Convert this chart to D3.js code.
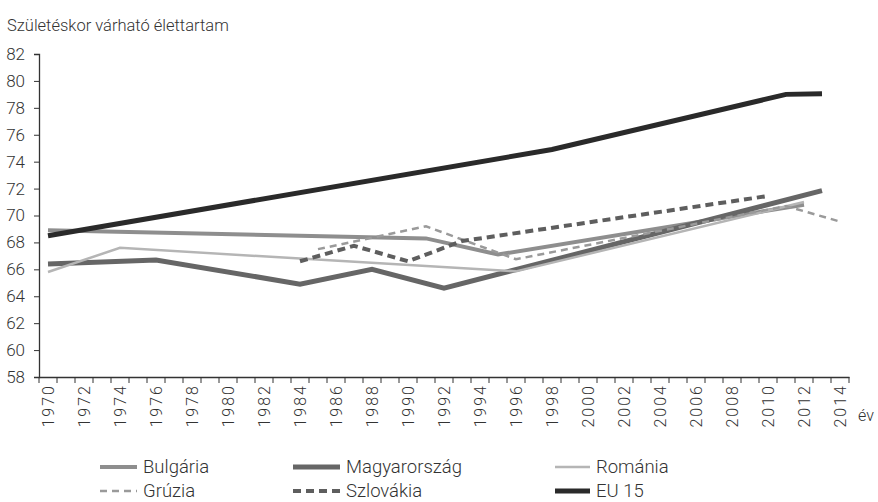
<!DOCTYPE html>
<html>
<head>
<meta charset="utf-8">
<script src="https://cdn.jsdelivr.net/npm/d3@7"></script>
<style>
  body { margin: 0; background: #fff; }
  text { font-family: Roboto, "Liberation Sans", sans-serif; font-weight: 300; fill: #333; }
</style>
</head>
<body>
<div id="chart"></div>
<script>
// years on the category axis
const years = d3.range(1970, 2015);
const yTicks = [58, 60, 62, 64, 66, 68, 70, 72, 74, 76, 78, 80, 82];

// series (vertices)
const bulgariaYears = [1970, 1991, 1995, 2012];
const bulgariaValues = [68.9, 68.3, 67.1, 70.8];
const hungaryYears = [1970, 1976, 1984, 1988, 1992, 2013];
const hungaryValues = [66.4, 66.7, 64.9, 66.0, 64.6, 71.85];
const romaniaYears = [1970, 1974, 1996, 2012];
const romaniaValues = [65.8, 67.6, 65.85, 71.0];
const georgiaYears = [1985, 1991, 1996, 2011, 2014];
const georgiaValues = [67.5, 69.2, 66.75, 70.7, 69.55];
const slovakiaYears = [1984, 1987, 1990, 1993, 2010];
const slovakiaValues = [66.6, 67.75, 66.6, 68.1, 71.45];
const eu15Years = [1970, 1998, 2011, 2013];
const eu15Values = [68.5, 74.9, 79.0, 79.05];

const series = [
  { name: "Bulgária", years: bulgariaYears, values: bulgariaValues, color: "#8e8e8e", width: 4, dash: null },
  { name: "Magyarország", years: hungaryYears, values: hungaryValues, color: "#666666", width: 5, dash: null },
  { name: "Románia", years: romaniaYears, values: romaniaValues, color: "#b5b5b5", width: 2.5, dash: null },
  { name: "Grúzia", years: georgiaYears, values: georgiaValues, color: "#9a9a9a", width: 2.5, dash: "7,5" },
  { name: "Szlovákia", years: slovakiaYears, values: slovakiaValues, color: "#5e5e5e", width: 4, dash: "8,5" },
  { name: "EU 15", years: eu15Years, values: eu15Values, color: "#2a2a2a", width: 5, dash: null }
];

const W = 878, H = 502;
const svg = d3.select("#chart").append("svg").attr("width", W).attr("height", H);

const x = d3.scaleBand().domain(years).range([39, 849]).paddingInner(0).paddingOuter(0);
const y = d3.scaleLinear().domain([58, 82]).range([377, 54]);
const cx = d => x(d) + x.bandwidth() / 2;

// title
svg.append("text").attr("x", 7).attr("y", 31).style("font-size", "16.5px")
  .text("Születéskor várható élettartam");

// y axis
const yAxis = svg.append("g").attr("transform", "translate(39,0)")
  .call(d3.axisLeft(y).tickValues(yTicks).tickSize(5).tickPadding(9));
yAxis.select(".domain").attr("stroke", "#333").attr("stroke-width", 1.3);
yAxis.selectAll(".tick line").attr("stroke", "#333");
yAxis.selectAll("text").style("font-size", "17px").style("font-family", null).attr("fill", "#333");

// x axis: labels every 2nd year
const xAxis = svg.append("g").attr("transform", "translate(0,377)")
  .call(d3.axisBottom(x).tickValues(years.filter(d => d % 2 === 0)).tickSize(0).tickSizeOuter(0));
xAxis.select(".domain").attr("stroke", "#333").attr("stroke-width", 1.3);
xAxis.selectAll("text")
  .style("font-size", "16px").style("font-family", null).style("letter-spacing", "2px")
  .attr("fill", "#333")
  .attr("transform", "rotate(-90)")
  .attr("text-anchor", "end")
  .attr("x", -7).attr("y", 0).attr("dy", "0.35em");

// boundary ticks between categories
svg.append("g").selectAll("line")
  .data(years.concat([2015]))
  .enter().append("line")
  .attr("x1", d => d === 2015 ? x(2014) + x.bandwidth() : x(d))
  .attr("x2", d => d === 2015 ? x(2014) + x.bandwidth() : x(d))
  .attr("y1", 377).attr("y2", 383)
  .attr("stroke", "#333").attr("stroke-width", 1);

svg.append("text").attr("x", 858).attr("y", 421).style("font-size", "16px").text("év");

// lines
const line = d3.line().x(d => cx(d[0])).y(d => y(d[1]));
svg.append("g").selectAll("path")
  .data(series)
  .enter().append("path")
  .attr("d", s => line(s.years.map((yr, i) => [yr, s.values[i]])))
  .attr("fill", "none")
  .attr("stroke", s => s.color)
  .attr("stroke-width", s => s.width)
  .attr("stroke-dasharray", s => s.dash);

// legend
const legX = [100, 293, 555], legY = [467, 491], legLen = [37, 47, 35];
const leg = svg.append("g").selectAll("g")
  .data(series)
  .enter().append("g")
  .attr("transform", (s, i) => `translate(${legX[i % 3]},${legY[Math.floor(i / 3)]})`);
leg.append("line")
  .attr("x1", 0).attr("x2", (s, i) => legLen[i % 3]).attr("y1", 0).attr("y2", 0)
  .attr("stroke", s => s.color)
  .attr("stroke-width", s => s.width)
  .attr("stroke-dasharray", s => s.dash);
leg.append("text").attr("x", (s, i) => legLen[i % 3] + 6).attr("y", 6)
  .style("font-size", "18.5px").text(s => s.name);
</script>
</body>
</html>
